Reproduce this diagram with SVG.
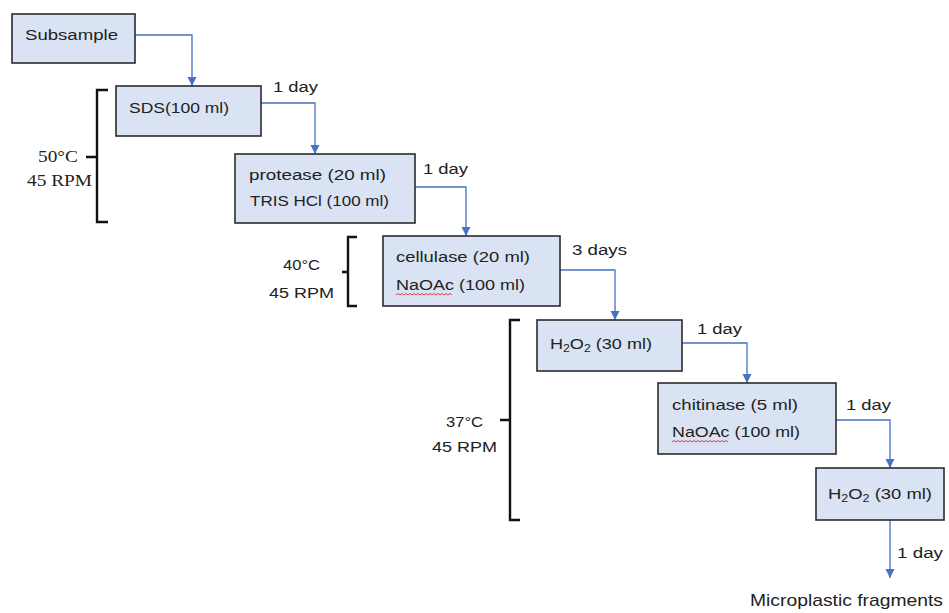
<svg xmlns="http://www.w3.org/2000/svg" width="949" height="613" viewBox="0 0 949 613">
<defs>
<marker id="ah" markerUnits="userSpaceOnUse" markerWidth="10" markerHeight="10" refX="9" refY="5" orient="auto">
<path d="M0,0.5 L9,5 L0,9.5 z" fill="#4472c4"/>
</marker>
</defs>
<style>
.box{fill:#dae3f3;stroke:#2b2b2b;stroke-width:1.6}
.t{font-family:"Liberation Sans",Arial,sans-serif;font-size:15.5px;fill:#222}
.s{font-family:"Liberation Serif","Times New Roman",serif;font-size:16px;fill:#222}
.c{fill:none;stroke:#4472c4;stroke-width:1.3;marker-end:url(#ah)}
.br{fill:none;stroke:#111;stroke-width:2.4}
.sq{fill:none;stroke:#e03030;stroke-width:0.9}
.sub{font-size:10.5px}
</style>
<rect width="949" height="613" fill="#ffffff"/>

<g id="connectors">
<path class="c" d="M135,35 H192 V86"/>
<path class="c" d="M261,103 H315 V154"/>
<path class="c" d="M415,187 H466 V236"/>
<path class="c" d="M560,270 H615 V320"/>
<path class="c" d="M682,343 H747 V383"/>
<path class="c" d="M836,420 H890 V468"/>
<path class="c" d="M890,520 V578"/>
<text class="t" x="273" y="92" textLength="45" lengthAdjust="spacingAndGlyphs">1 day</text>
<text class="t" x="423" y="174" textLength="45" lengthAdjust="spacingAndGlyphs">1 day</text>
<text class="t" x="572" y="255" textLength="55" lengthAdjust="spacingAndGlyphs">3 days</text>
<text class="t" x="697" y="334" textLength="45" lengthAdjust="spacingAndGlyphs">1 day</text>
<text class="t" x="846" y="410" textLength="45" lengthAdjust="spacingAndGlyphs">1 day</text>
<text class="t" x="897" y="558" textLength="46" lengthAdjust="spacingAndGlyphs">1 day</text>
</g>

<g id="n1">
<rect class="box" x="12" y="14" width="123" height="49"/>
<text class="t" x="25" y="40" textLength="93" lengthAdjust="spacingAndGlyphs">Subsample</text>
</g>
<g id="n2">
<rect class="box" x="116" y="86" width="145" height="50"/>
<text class="t" x="129" y="113" textLength="100" lengthAdjust="spacingAndGlyphs">SDS(100 ml)</text>
</g>
<g id="n3">
<rect class="box" x="235" y="154" width="180" height="69"/>
<text class="t" x="249" y="180" textLength="137" lengthAdjust="spacingAndGlyphs">protease (20 ml)</text>
<text class="t" x="250" y="206" textLength="139" lengthAdjust="spacingAndGlyphs">TRIS HCl (100 ml)</text>
</g>
<g id="n4">
<rect class="box" x="383" y="236" width="177" height="70"/>
<text class="t" x="396" y="262" textLength="134" lengthAdjust="spacingAndGlyphs">cellulase (20 ml)</text>
<text class="t" x="396" y="290" textLength="129" lengthAdjust="spacingAndGlyphs">NaOAc (100 ml)</text>
<path class="sq" d="M396,295 l2,-1.5 l2,1.5 l2,-1.5 l2,1.5 l2,-1.5 l2,1.5 l2,-1.5 l2,1.5 l2,-1.5 l2,1.5 l2,-1.5 l2,1.5 l2,-1.5 l2,1.5 l2,-1.5 l2,1.5 l2,-1.5 l2,1.5 l2,-1.5 l2,1.5 l2,-1.5 l2,1.5 l2,-1.5 l2,1.5 l2,-1.5 l2,1.5 l2,-1.5 l2,1.5"/>
</g>
<g id="n5">
<rect class="box" x="537" y="320" width="145" height="51"/>
<text class="t" x="550" y="349" textLength="102" lengthAdjust="spacingAndGlyphs">H<tspan class="sub" dy="3">2</tspan><tspan dy="-3">O</tspan><tspan class="sub" dy="3">2</tspan><tspan dy="-3"> (30 ml)</tspan></text>
</g>
<g id="n6">
<rect class="box" x="658" y="383" width="178" height="71"/>
<text class="t" x="672" y="410" textLength="126" lengthAdjust="spacingAndGlyphs">chitinase (5 ml)</text>
<text class="t" x="672" y="437" textLength="128" lengthAdjust="spacingAndGlyphs">NaOAc (100 ml)</text>
<path class="sq" d="M672,442 l2,-1.5 l2,1.5 l2,-1.5 l2,1.5 l2,-1.5 l2,1.5 l2,-1.5 l2,1.5 l2,-1.5 l2,1.5 l2,-1.5 l2,1.5 l2,-1.5 l2,1.5 l2,-1.5 l2,1.5 l2,-1.5 l2,1.5 l2,-1.5 l2,1.5 l2,-1.5 l2,1.5 l2,-1.5 l2,1.5 l2,-1.5 l2,1.5 l2,-1.5 l2,1.5"/>
</g>
<g id="n7">
<rect class="box" x="816" y="468" width="128" height="52"/>
<text class="t" x="828" y="499" textLength="104" lengthAdjust="spacingAndGlyphs">H<tspan class="sub" dy="3">2</tspan><tspan dy="-3">O</tspan><tspan class="sub" dy="3">2</tspan><tspan dy="-3"> (30 ml)</tspan></text>
</g>
<g id="n8">
<text class="t" x="750" y="606" style="font-size:17px" textLength="193" lengthAdjust="spacingAndGlyphs">Microplastic fragments</text>
</g>

<g id="bracket1">
<path class="br" d="M108,90 H97 V222 H108 M97,157 H86"/>
<text class="s" x="38" y="162" textLength="40" lengthAdjust="spacingAndGlyphs">50°C</text>
<text class="s" x="27" y="186" textLength="65" lengthAdjust="spacingAndGlyphs">45 RPM</text>
</g>
<g id="bracket2">
<path class="br" d="M357,237 H348 V306 H357 M348,272 H342"/>
<text class="t" x="283" y="270" textLength="37" lengthAdjust="spacingAndGlyphs">40°C</text>
<text class="t" x="269" y="298" textLength="65" lengthAdjust="spacingAndGlyphs">45 RPM</text>
</g>
<g id="bracket3">
<path class="br" d="M520,320 H510 V520 H520 M510,420 H500"/>
<text class="t" x="446" y="427" textLength="37" lengthAdjust="spacingAndGlyphs">37°C</text>
<text class="t" x="432" y="452" textLength="65" lengthAdjust="spacingAndGlyphs">45 RPM</text>
</g>
</svg>
